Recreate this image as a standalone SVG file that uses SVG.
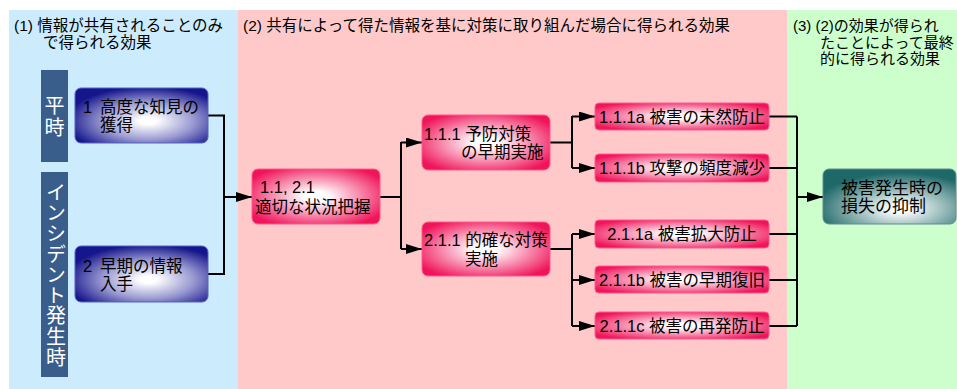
<svg xmlns="http://www.w3.org/2000/svg" width="957" height="389" viewBox="0 0 957 389">
<defs>
<style>
text{font-family:"Liberation Sans","Noto Sans CJK JP",sans-serif;fill:#000}
.title{font-size:15.5px}
.gt{font-size:15px}
.nt{font-size:16.5px}
.ft{font-size:17px}
.bar{fill:#395E8C}
.bt{font-size:20px;fill:#fff}
.blue{fill:url(#gBlue);stroke:#5565C8;stroke-width:1}
.pink{fill:url(#gPink);stroke:#FF5A8C;stroke-width:1}
.teal{fill:url(#gTeal);stroke:#6A8794;stroke-width:1}
.conn path{fill:none;stroke:#000;stroke-width:2}
.arr{marker-end:url(#ah)}
</style>
<radialGradient id="gBlue" cx="0.55" cy="0.6" r="0.62">
<stop offset="0" stop-color="#ffffff"/>
<stop offset="0.1" stop-color="#ffffff"/>
<stop offset="0.55" stop-color="#9A9AD2"/>
<stop offset="1" stop-color="#16168C"/>
</radialGradient>
<radialGradient id="gPink" cx="0.5" cy="0.5" r="0.6">
<stop offset="0" stop-color="#ffffff"/>
<stop offset="0.15" stop-color="#ffffff"/>
<stop offset="1" stop-color="#F0145A"/>
</radialGradient>
<radialGradient id="gTeal" cx="0.58" cy="0.72" r="0.65">
<stop offset="0" stop-color="#ffffff"/>
<stop offset="0.1" stop-color="#ffffff"/>
<stop offset="1" stop-color="#1E6868"/>
</radialGradient>
<marker id="ah" markerWidth="16" markerHeight="10" refX="16" refY="5" orient="auto" markerUnits="userSpaceOnUse">
<path d="M0,0 L16,5 L0,10 Z" fill="#000"/>
</marker>
</defs>
<rect width="957" height="389" fill="#fff"/>
<g id="panels">
<rect x="9" y="10" width="229" height="379" fill="#CCEBFC"/>
<rect x="238" y="10" width="549" height="379" fill="#FFC9C9"/>
<rect x="787" y="10" width="170" height="379" fill="#CCFFCC"/>
<text class="title" x="14" y="31">(1) 情報が共有されることのみ</text>
<text class="title" x="43" y="48">で得られる効果</text>
<text class="title" x="243" y="31">(2) 共有によって得た情報を基に対策に取り組んだ場合に得られる効果</text>
<text class="gt" x="793" y="31">(3) (2)の効果が得られ</text>
<text class="gt" x="820" y="48">たことによって最終</text>
<text class="gt" x="820" y="64">的に得られる効果</text>
</g>
<g id="bar-heiji">
<rect class="bar" x="41" y="70" width="27" height="92"/>
<text class="bt" x="54.5" y="113" text-anchor="middle">平</text>
<text class="bt" x="54.5" y="135" text-anchor="middle">時</text>
</g>
<g id="bar-incident">
<rect class="bar" x="41" y="172" width="27" height="205"/>
<text class="bt" x="54.5" y="275" text-anchor="middle" style="writing-mode:vertical-rl;letter-spacing:0.6px">インシデント発生時</text>
</g>
<g class="conn" id="connectors">
<path d="M208,115.5 H224 V274 H208"/>
<path class="arr" d="M224,197 H252"/>
<path d="M380,197 H401 M401,142 V249"/>
<path class="arr" d="M401,142.5 H422"/>
<path class="arr" d="M401,249 H422"/>
<path d="M550,142.5 H572 M572,116 V168"/>
<path class="arr" d="M572,116.5 H595"/>
<path class="arr" d="M572,168 H595"/>
<path d="M550,249 H572 M572,234 V326"/>
<path class="arr" d="M572,234 H595"/>
<path class="arr" d="M572,280 H595"/>
<path class="arr" d="M572,326 H595"/>
<path d="M769,116.5 H797 M769,168 H797 M769,234 H797 M769,280 H797 M769,326 H797 M797,116.5 V326"/>
<path class="arr" d="M797,197 H823"/>
</g>
<g id="n1">
<rect class="blue" x="75" y="88" width="133" height="55" rx="6"/>
<text class="nt" x="83" y="113">1</text>
<text class="nt" x="100" y="113">高度な知見の</text>
<text class="nt" x="100" y="131">獲得</text>
</g>
<g id="n2">
<rect class="blue" x="75" y="246" width="133" height="56" rx="6"/>
<text class="nt" x="83" y="272">2</text>
<text class="nt" x="100" y="272">早期の情報</text>
<text class="nt" x="100" y="290">入手</text>
</g>
<g id="n1_1">
<rect class="pink" x="252" y="169" width="128" height="55" rx="6"/>
<text class="nt" x="260" y="193">1.1, 2.1</text>
<text class="nt" x="255" y="213">適切な状況把握</text>
</g>
<g id="n1_1_1">
<rect class="pink" x="422" y="115" width="128" height="55" rx="6"/>
<text class="nt" x="424" y="140">1.1.1 予防対策</text>
<text class="nt" x="461" y="158">の早期実施</text>
</g>
<g id="n2_1_1">
<rect class="pink" x="422" y="222" width="128" height="54" rx="6"/>
<text class="nt" x="424" y="246">2.1.1 的確な対策</text>
<text class="nt" x="465" y="265">実施</text>
</g>
<g id="n1_1_1a">
<rect class="pink" x="595" y="103" width="174" height="27" rx="4"/>
<text class="nt" x="682" y="122.5" text-anchor="middle">1.1.1a 被害の未然防止</text>
</g>
<g id="n1_1_1b">
<rect class="pink" x="595" y="154" width="174" height="28" rx="4"/>
<text class="nt" x="682" y="174" text-anchor="middle">1.1.1b 攻撃の頻度減少</text>
</g>
<g id="n2_1_1a">
<rect class="pink" x="595" y="220" width="174" height="28" rx="4"/>
<text class="nt" x="682" y="240" text-anchor="middle">2.1.1a 被害拡大防止</text>
</g>
<g id="n2_1_1b">
<rect class="pink" x="595" y="266" width="174" height="27" rx="4"/>
<text class="nt" x="682" y="286" text-anchor="middle">2.1.1b 被害の早期復旧</text>
</g>
<g id="n2_1_1c">
<rect class="pink" x="595" y="312" width="174" height="27" rx="4"/>
<text class="nt" x="682" y="332" text-anchor="middle">2.1.1c 被害の再発防止</text>
</g>
<g id="final">
<rect class="teal" x="823" y="169" width="133" height="55" rx="6"/>
<text class="ft" x="841" y="194">被害発生時の</text>
<text class="ft" x="841" y="212">損失の抑制</text>
</g>
</svg>
